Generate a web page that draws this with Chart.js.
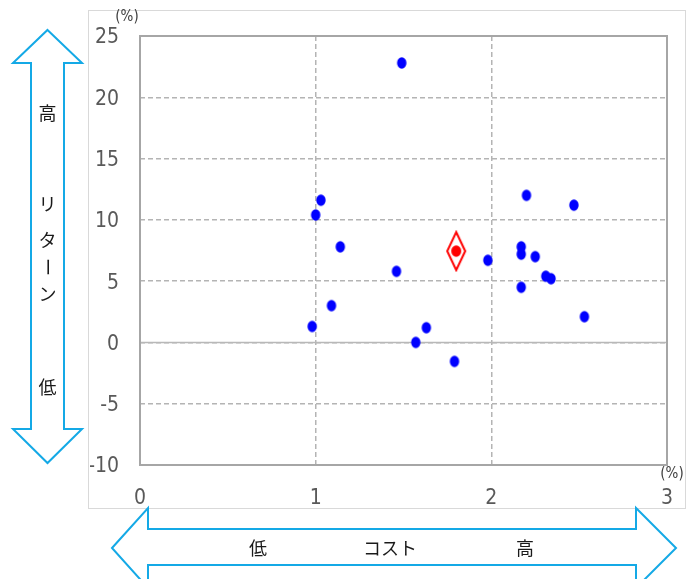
<!DOCTYPE html>
<html>
<head>
<meta charset="utf-8">
<script src="https://cdn.jsdelivr.net/npm/chart.js@4/dist/chart.umd.min.js"></script>
<style>
  html, body { margin: 0; padding: 0; background: #fff; }
  #wrap { width: 690px; height: 579px; position: relative; }
</style>
</head>
<body>
<div id="wrap"><canvas id="c" width="690" height="579"></canvas></div>
<script>
// Annual cost (%) vs. return (%) of funds
const fundCost   = [1.49, 1.03, 1.00, 1.14, 1.46, 1.09, 0.98, 1.57, 1.63, 1.79,
                    1.98, 2.20, 2.47, 2.17, 2.17, 2.25, 2.31, 2.34, 2.17, 2.53];
const fundReturn = [22.8, 11.6, 10.4, 7.8, 5.8, 3.0, 1.3, 0.0, 1.2, -1.55,
                    6.7, 12.0, 11.2, 7.8, 7.2, 7.0, 5.4, 5.2, 4.5, 2.1];
// Highlighted fund
const focusCost   = [1.80];
const focusReturn = [7.45];

const xTicks = [0, 1, 2, 3];
const yTicks = [-10, -5, 0, 5, 10, 15, 20, 25];

const TICK_FONT = '"Liberation Sans Narrow", "DejaVu Sans Condensed", "Liberation Sans", sans-serif';
const JP_FONT = '"Noto Sans CJK JP", sans-serif';

// Marker images
function dotImage() {
  const c = document.createElement('canvas');
  c.width = 12; c.height = 14;
  const g = c.getContext('2d');
  g.fillStyle = '#0000ff';
  g.beginPath();
  g.ellipse(6, 7, 4.7, 5.8, 0, 0, Math.PI * 2);
  g.fill();
  return c;
}
function diamondImage() {
  const c = document.createElement('canvas');
  c.width = 24; c.height = 42;
  const g = c.getContext('2d');
  g.strokeStyle = '#ff0000';
  g.lineWidth = 2;
  g.beginPath();
  g.moveTo(12, 2); g.lineTo(21, 21); g.lineTo(12, 40); g.lineTo(3, 21); g.closePath();
  g.stroke();
  g.fillStyle = '#ff0000';
  g.beginPath();
  g.ellipse(12, 21, 5, 5.8, 0, 0, Math.PI * 2);
  g.fill();
  return c;
}

const toPoints = (xs, ys) => xs.map((x, i) => ({ x: x, y: ys[i] }));

// Frame, arrows and captions around the plot
const decor = {
  id: 'decor',
  beforeDraw(chart) {
    const ctx = chart.ctx;
    ctx.save();
    ctx.fillStyle = '#ffffff';
    ctx.fillRect(0, 0, chart.width, chart.height);
    // outer chart box
    ctx.strokeStyle = '#d9d9d9';
    ctx.lineWidth = 1;
    ctx.strokeRect(88.5, 10.5, 597, 498);

    ctx.strokeStyle = '#14a9e6';
    ctx.lineWidth = 2;
    ctx.fillStyle = '#ffffff';
    // vertical double arrow (return)
    ctx.beginPath();
    ctx.moveTo(47.5, 30);
    ctx.lineTo(82, 63);
    ctx.lineTo(64, 63);
    ctx.lineTo(64, 429);
    ctx.lineTo(82, 429);
    ctx.lineTo(47.5, 463);
    ctx.lineTo(13, 429);
    ctx.lineTo(31, 429);
    ctx.lineTo(31, 63);
    ctx.lineTo(13, 63);
    ctx.closePath();
    ctx.fill();
    ctx.stroke();
    // horizontal double arrow (cost)
    ctx.beginPath();
    ctx.moveTo(112, 548);
    ctx.lineTo(148, 508);
    ctx.lineTo(148, 529);
    ctx.lineTo(636, 529);
    ctx.lineTo(636, 508);
    ctx.lineTo(676, 548);
    ctx.lineTo(636, 588);
    ctx.lineTo(636, 565);
    ctx.lineTo(148, 565);
    ctx.lineTo(148, 588);
    ctx.closePath();
    ctx.fill();
    ctx.stroke();

    // captions
    ctx.fillStyle = '#1a1a1a';
    ctx.font = '18px ' + JP_FONT;
    ctx.textAlign = 'center';
    ctx.textBaseline = 'middle';
    const vChars = [['高', 113], ['リ', 204], ['タ', 240], ['ー', 267], ['ン', 294], ['低', 387]];
    vChars.forEach(([ch, y]) => {
      if (ch === 'ー') {
        ctx.save();
        ctx.translate(47.5, y);
        ctx.rotate(Math.PI / 2);
        ctx.fillText(ch, 0, 0);
        ctx.restore();
      } else {
        ctx.fillText(ch, 47.5, y);
      }
    });
    ctx.fillText('低', 258, 548);
    ctx.fillText('コスト', 390, 548);
    ctx.fillText('高', 525, 548);

    // unit labels
    ctx.fillStyle = '#404040';
    ctx.font = '15px ' + TICK_FONT;
    ctx.fillText('(%)', 127, 17);
    ctx.fillText('(%)', 672, 474);
    ctx.restore();
  },
  beforeDatasetsDraw(chart) {
    const ctx = chart.ctx;
    const a = chart.chartArea;
    const y0 = chart.scales.y.getPixelForValue(0);
    ctx.save();
    ctx.strokeStyle = '#b8b8b8';
    ctx.lineWidth = 1.5;
    ctx.beginPath();
    ctx.moveTo(a.left, Math.round(y0) + 0.5);
    ctx.lineTo(a.right, Math.round(y0) + 0.5);
    ctx.stroke();
    ctx.strokeStyle = '#a6a6a6';
    ctx.lineWidth = 2;
    ctx.strokeRect(a.left, a.top, a.right - a.left, a.bottom - a.top);
    ctx.restore();
  }
};

new Chart(document.getElementById('c'), {
  type: 'scatter',
  data: {
    datasets: [
      {
        data: toPoints(fundCost, fundReturn),
        pointStyle: dotImage(),
        pointRadius: 6,
        pointHoverRadius: 6
      },
      {
        data: toPoints(focusCost, focusReturn),
        pointStyle: diamondImage(),
        pointRadius: 10,
        pointHoverRadius: 10
      }
    ]
  },
  options: {
    responsive: false,
    animation: false,
    events: [],
    layout: { padding: { left: 90, right: 23, top: 36, bottom: 74 } },
    plugins: { legend: { display: false }, tooltip: { enabled: false } },
    scales: {
      x: {
        type: 'linear',
        min: 0, max: 3,
        afterBuildTicks(s) { s.ticks = xTicks.map(v => ({ value: v })); },
        afterFit(s) { s.height = 40; s.paddingLeft = 0; s.paddingRight = 0; },
        grid: { color: '#b4b4b4', lineWidth: 1.5, drawTicks: false },
        border: { display: false, dash: [5, 3] },
        ticks: { color: '#595959', font: { family: TICK_FONT, size: 21 }, padding: 21, maxRotation: 0 }
      },
      y: {
        type: 'linear',
        min: -10, max: 25,
        afterBuildTicks(s) { s.ticks = yTicks.map(v => ({ value: v })); },
        afterFit(s) { s.width = 50; s.paddingTop = 0; s.paddingBottom = 0; },
        grid: { color: '#b4b4b4', lineWidth: 1.5, drawTicks: false },
        border: { display: false, dash: [5, 3] },
        ticks: { color: '#595959', font: { family: TICK_FONT, size: 21 }, padding: 21, labelOffset: 2 }
      }
    }
  },
  plugins: [decor]
});
</script>
</body>
</html>
